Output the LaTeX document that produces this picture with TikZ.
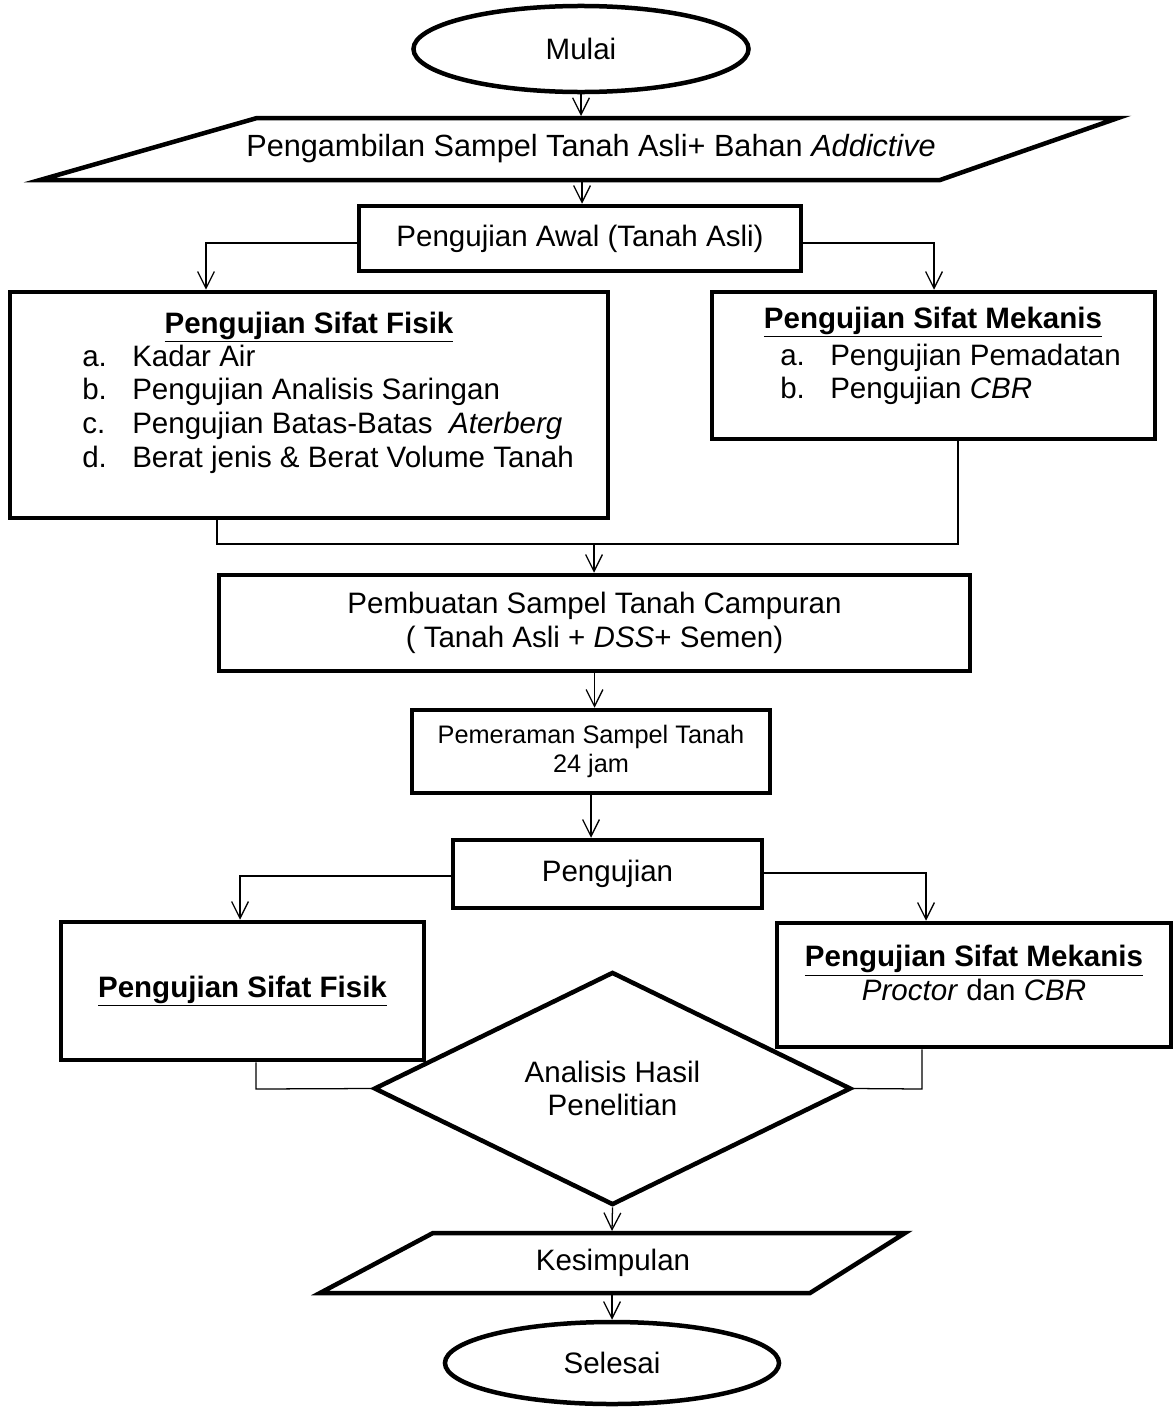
\documentclass[tikz,border=0pt]{standalone}
\usepackage{fontspec}
\setmainfont{Liberation Sans}
\usetikzlibrary{shapes.geometric,arrows.meta,positioning}

\begin{document}
\begin{tikzpicture}[x=0.025cm,y=-0.025cm]
	\tikzstyle{every node}+=[inner sep=0pt,font=\fontsize{21}{24}\selectfont]
	\tikzstyle{box}=[draw,rectangle,line width=3.2pt,align=center]
	\tikzstyle{term}=[draw,ellipse,line width=3.2pt]
	\tikzstyle{line}=[line width=0.9pt]
	\tikzstyle{arrow}=[line width=0.9pt,-{Straight Barb[length=4.2mm,width=4.2mm]}]
	\useasboundingbox (0,0) rectangle (1173,1407);
	\node [term,minimum width=8.375cm,minimum height=2.15cm] (start) at (581,49) {Mulai};
	\draw [line width=3.2pt] (257,118) -- (1118,118) -- (940,180) -- (40,180) -- cycle;
	\node [font=\fontsize{21.8}{24}\selectfont] (input) at (591,149) {Pengambilan Sampel Tanah Asli+ Bahan \textit{Addictive}};
	\coordinate (intop) at (582,116);
	\coordinate (inbot) at (582,182);
	\node [box,minimum width=11.05cm,minimum height=1.625cm] (awal) at (580,238.5) {Pengujian Awal (Tanah Asli)};
	\node [box,minimum width=14.95cm,minimum height=5.65cm] (fisik) at (309,405) {};
	\node [anchor=base] (fisikt) at (309,333) {\underline{\textbf{Pengujian Sifat Fisik}}};
	\node [anchor=base west] (fisikl) at (82,366) {\begin{tabular}[t]{@{}p{1.25cm}@{}l@{}}
		a. & Kadar Air\\
		b. & Pengujian Analisis Saringan\\
		c. & Pengujian Batas-Batas \ \textit{Aterberg}\\
		d. & Berat jenis \& Berat Volume Tanah
	\end{tabular}};
	\node [box,minimum width=11.075cm,minimum height=3.675cm] (mekanis) at (933.5,365.5) {};
	\node [anchor=base] (mekanist) at (933,328) {\underline{\textbf{Pengujian Sifat Mekanis}}};
	\node [anchor=base west] (mekanisl) at (780,365) {\begin{tabular}[t]{@{}p{1.25cm}@{}l@{}}
		a. & Pengujian Pemadatan\\
		b. & Pengujian \textit{CBR}
	\end{tabular}};
	\node [box,minimum width=18.775cm,minimum height=2.4cm] (campur) at (594.5,623) {Pembuatan Sampel Tanah Campuran\\( Tanah Asli + \textit{DSS}+ Semen)};
	\node [box,minimum width=8.95cm,minimum height=2.075cm,font=\fontsize{18}{20.5}\selectfont] (peram) at (591,751.5) {Pemeraman Sampel Tanah\\24 jam};
	\node [box,minimum width=7.725cm,minimum height=1.7cm] (uji) at (607.5,874) {Pengujian};
	\node [box,minimum width=9.075cm,minimum height=3.45cm] (fisikb) at (242.5,991) {\underline{\textbf{Pengujian Sifat Fisik}}};
	\node [box,minimum width=9.85cm,minimum height=3.1cm] (mekanisb) at (974,985) {};
	\node [align=center] (mekanisbt) at (974,973) {\underline{\textbf{Pengujian Sifat Mekanis}}\\\textit{Proctor} dan \textit{CBR}};
	\node [draw,diamond,line width=3.2pt,aspect=2.05,minimum width=11.925cm,minimum height=5.825cm,align=center] (hasil) at (612.5,1088.5) {Analisis Hasil\\Penelitian};
	\draw [line width=3.2pt] (433,1233) -- (905,1233) -- (810,1293) -- (320,1293) -- cycle;
	\node (output) at (613,1263) {Kesimpulan};
	\coordinate (outtop) at (612,1231);
	\coordinate (outbot) at (612,1295);
	\node [term,minimum width=8.35cm,minimum height=2.05cm] (end) at (612,1363) {Selesai};
	\coordinate (k1) at (206,243);
	\coordinate (k2) at (934,243);
	\coordinate (m1) at (217,544);
	\coordinate (m2) at (958,544);
	\coordinate (m3) at (594,544);
	\coordinate (k3) at (240,876);
	\coordinate (k4) at (926,873);
	\coordinate (k5) at (256,1089);
	\coordinate (k6) at (922,1089);
	\draw [arrow] (start.south) -- (start.south |- intop);
	\draw [arrow] (inbot) -- (inbot |- awal.north);
	\draw [arrow] (awal.west |- k1) -- (k1) -- (k1 |- fisik.north);
	\draw [arrow] (awal.east |- k2) -- (k2) -- (k2 |- mekanis.north);
	\draw [line] (m1 |- fisik.south) -- (m1) -- (m2) -- (m2 |- mekanis.south);
	\draw [arrow] (m3) -- (m3 |- campur.north);
	\draw [arrow] (campur.south) -- (campur.south |- peram.north);
	\draw [arrow] (peram.south) -- (peram.south |- uji.north);
	\draw [arrow] (uji.west |- k3) -- (k3) -- (k3 |- fisikb.north);
	\draw [arrow] (uji.east |- k4) -- (k4) -- (k4 |- mekanisb.north);
	\draw [line] (k5 |- fisikb.south) -- (k5) -- (hasil.west);
	\draw [line] (k6 |- mekanisb.south) -- (k6) -- (hasil.east);
	\draw [arrow] (hasil.south) -- (outtop);
	\draw [arrow] (outbot) -- (end.north);
\end{tikzpicture}
\end{document}
